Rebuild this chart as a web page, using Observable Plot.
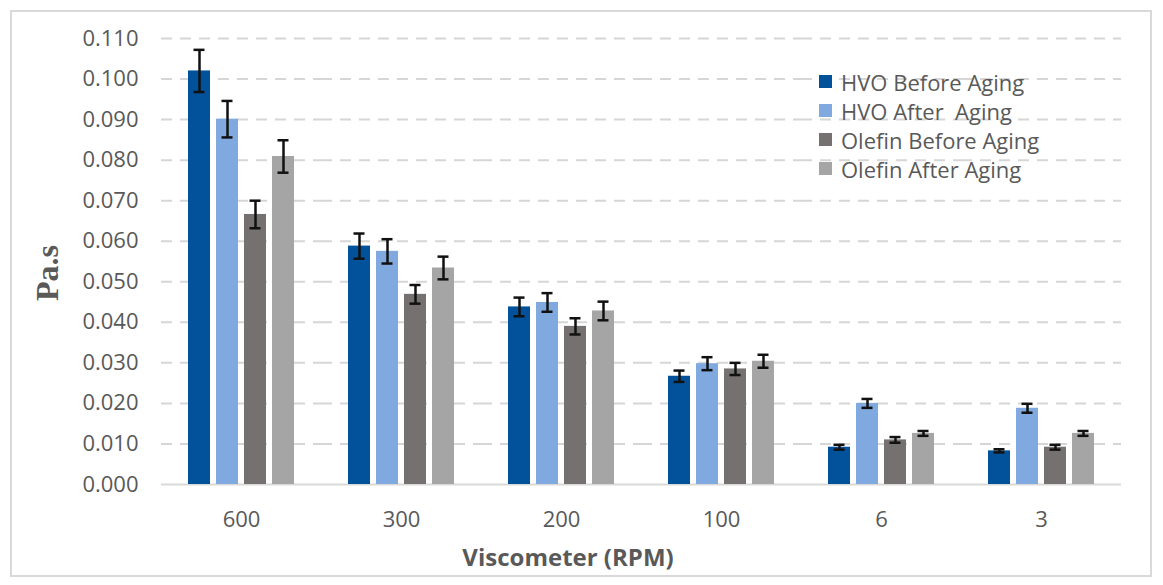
<!DOCTYPE html>
<html>
<head>
<meta charset="utf-8">
<script src="https://cdn.jsdelivr.net/npm/d3@7"></script>
<script src="https://cdn.jsdelivr.net/npm/@observablehq/plot@0.6"></script>
<style>
  html, body { margin: 0; padding: 0; background: #fff; }
  #wrap { position: relative; width: 1163px; height: 585px; overflow: hidden; font-family: "Open Sans", sans-serif; }
  #frame { position: absolute; left: 10px; top: 10px; width: 1138px; height: 563px; border: 2px solid #d9d9d9; pointer-events: none; }
  #chart { position: absolute; left: 0; top: 0; }
  .ylab { position: absolute; left: 47px; top: 273px; transform: translate(-50%, -50%) rotate(-90deg); font-family: "Liberation Serif", "Times New Roman", serif; font-weight: bold; font-size: 32px; color: #595959; white-space: nowrap; }
  .xlab { position: absolute; left: 568px; top: 556px; transform: translate(-50%, -50%); font-weight: bold; font-size: 24px; color: #595959; white-space: nowrap; }
  .legend { position: absolute; left: 819px; top: 67px; font-size: 22px; color: #595959; }
  .legend .row { height: 29px; display: flex; align-items: center; white-space: pre; }
  .legend .sw { width: 13px; height: 13px; margin-right: 9px; flex: none; }
</style>
</head>
<body>
<div id="wrap">
  <div id="chart"></div>
  <div class="ylab">Pa.s</div>
  <div class="xlab">Viscometer (RPM)</div>
  <div class="legend" id="legend"></div>
  <div id="frame"></div>
</div>
<script>
// ---- data ----
const rpm = ["600", "300", "200", "100", "6", "3"];
const seriesNames = ["HVO Before Aging", "HVO After  Aging", "Olefin Before Aging", "Olefin After Aging"];
const seriesColors = ["#02519b", "#80aadf", "#767171", "#a5a5a5"];

const hvoBefore      = [0.1020, 0.0588, 0.0438, 0.0267, 0.0092, 0.0083];
const hvoBeforeErr   = [0.0052, 0.0031, 0.0023, 0.0014, 0.0006, 0.0004];
const hvoAfter       = [0.0901, 0.0575, 0.0449, 0.0298, 0.0200, 0.0188];
const hvoAfterErr    = [0.0045, 0.0030, 0.0023, 0.0016, 0.0011, 0.0011];
const olefinBefore   = [0.0666, 0.0469, 0.0390, 0.0285, 0.0110, 0.0092];
const olefinBeforeErr= [0.0034, 0.0023, 0.0020, 0.0015, 0.0007, 0.0006];
const olefinAfter    = [0.0809, 0.0534, 0.0428, 0.0304, 0.0126, 0.0126];
const olefinAfterErr = [0.0040, 0.0028, 0.0023, 0.0016, 0.0006, 0.0006];

const yTicks = [0, 0.01, 0.02, 0.03, 0.04, 0.05, 0.06, 0.07, 0.08, 0.09, 0.10, 0.11];

// ---- table ----
const valuesBySeries = [hvoBefore, hvoAfter, olefinBefore, olefinAfter];
const errsBySeries = [hvoBeforeErr, hvoAfterErr, olefinBeforeErr, olefinAfterErr];
const data = [];
rpm.forEach((r, i) => {
  seriesNames.forEach((s, j) => {
    data.push({rpm: r, series: s, value: valuesBySeries[j][i], err: errsBySeries[j][i]});
  });
});

const chart = Plot.plot({
  width: 1163,
  height: 585,
  marginLeft: 160,
  marginRight: 41,
  marginTop: 38,
  marginBottom: 101,
  style: {fontFamily: "Open Sans, sans-serif", fontSize: "22px", color: "#595959", background: "transparent", overflow: "visible"},
  fx: {domain: rpm, padding: 0, axis: "bottom", tickSize: 0, tickPadding: 27, label: null},
  x: {domain: seriesNames, axis: null, paddingInner: 0.207, paddingOuter: 0.868},
  y: {domain: [0, 0.11], ticks: yTicks, tickFormat: d3.format(".3f"), tickSize: 0, tickPadding: 23, label: null},
  color: {domain: seriesNames, range: seriesColors},
  marks: [
    Plot.ruleY(yTicks.filter(v => v > 0), {stroke: "#d6d6d6", strokeWidth: 2, strokeDasharray: "11,8"}),
    Plot.ruleY([0], {stroke: "#d9d9d9", strokeWidth: 2}),
    Plot.barY(data, {fx: "rpm", x: "series", y: "value", fill: "series"}),
    Plot.ruleX(data, {fx: "rpm", x: "series", y1: d => d.value - d.err, y2: d => d.value + d.err, stroke: "#111", strokeWidth: 2.5}),
    Plot.tickY(data, {fx: "rpm", x: "series", y: d => d.value + d.err, stroke: "#111", strokeWidth: 2.5, insetLeft: 5.5, insetRight: 5.5}),
    Plot.tickY(data, {fx: "rpm", x: "series", y: d => d.value - d.err, stroke: "#111", strokeWidth: 2.5, insetLeft: 5.5, insetRight: 5.5})
  ]
});
document.getElementById("chart").appendChild(chart);

const legend = document.getElementById("legend");
seriesNames.forEach((s, j) => {
  const row = document.createElement("div");
  row.className = "row";
  const sw = document.createElement("span");
  sw.className = "sw";
  sw.style.background = seriesColors[j];
  const t = document.createElement("span");
  t.textContent = s;
  row.appendChild(sw);
  row.appendChild(t);
  legend.appendChild(row);
});
</script>
</body>
</html>
